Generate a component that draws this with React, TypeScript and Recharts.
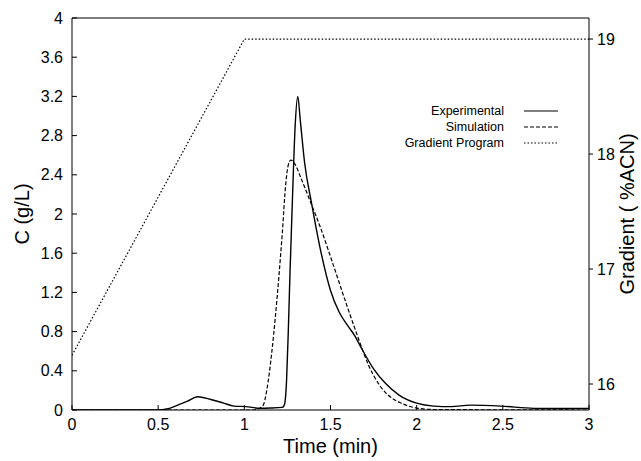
import { LineChart, Line, XAxis, YAxis, ReferenceLine } from "recharts";

const FONT = "'Liberation Sans', Arial, Helvetica, sans-serif";

// experimental elution profile (solid)
const expTime = [0, 0.5, 0.55, 0.6, 0.67, 0.73, 0.8, 0.88, 0.94, 1.01, 1.09, 1.15, 1.22, 1.232, 1.245, 1.255, 1.265, 1.28, 1.295, 1.31, 1.325, 1.35, 1.39, 1.44, 1.5, 1.55, 1.6, 1.64, 1.68, 1.75, 1.82, 1.9, 2.0, 2.1, 2.2, 2.31, 2.49, 2.68, 2.85, 3.0];
const expConc = [0, 0, 0.01, 0.04, 0.09, 0.135, 0.11, 0.07, 0.04, 0.034, 0.018, 0.02, 0.027, 0.05, 0.3, 0.8, 1.4, 2.2, 2.9, 3.2, 2.95, 2.52, 2.11, 1.65, 1.22, 1.0, 0.86, 0.76, 0.63, 0.42, 0.27, 0.15, 0.07, 0.04, 0.034, 0.05, 0.04, 0.017, 0.015, 0.017];

// simulated profile (dashed)
const simTime = [0, 1.05, 1.08, 1.11, 1.13, 1.16, 1.18, 1.2, 1.22, 1.24, 1.255, 1.27, 1.29, 1.33, 1.38, 1.44, 1.52, 1.6, 1.66, 1.72, 1.79, 1.85, 1.91, 2.0, 2.1, 3.0];
const simConc = [0, 0, 0.01, 0.05, 0.2, 0.6, 0.95, 1.35, 1.8, 2.3, 2.5, 2.55, 2.52, 2.36, 2.14, 1.87, 1.46, 1.04, 0.74, 0.46, 0.24, 0.13, 0.07, 0.02, 0.005, 0];

// gradient program (dotted, right axis)
const gradTime = [0, 1, 3];
const gradPct = [16.25, 19, 19];

const xTicks = [0, 0.5, 1, 1.5, 2, 2.5, 3];
const cTicks = [0, 0.4, 0.8, 1.2, 1.6, 2, 2.4, 2.8, 3.2, 3.6, 4];
const gTicks = [16, 17, 18, 19];

const expData = expTime.map((t, i) => ({ t, c: expConc[i] }));
const simData = simTime.map((t, i) => ({ t, c: simConc[i] }));
const gradData = gradTime.map((t, i) => ({ t, g: gradPct[i] }));

const legendItems = [
  { name: "Experimental", dash: undefined },
  { name: "Simulation", dash: "4 2" },
  { name: "Gradient Program", dash: "1.5 2" },
];

function LegendBox() {
  return (
    <div style={{ position: "absolute", left: 372, top: 103, width: 186, fontFamily: FONT, fontSize: 12.5, color: "#000" }}>
      {legendItems.map((it) => (
        <div key={it.name} style={{ display: "flex", alignItems: "center", justifyContent: "flex-end", height: 16 }}>
          <span>{it.name}</span>
          <svg width={44} height={10} style={{ marginLeft: 10 }}>
            <line x1={10} y1={5} x2={44} y2={5} stroke="#000" strokeWidth={1.2} strokeDasharray={it.dash} />
          </svg>
        </div>
      ))}
    </div>
  );
}

const tickStyle = { fill: "#000", fontSize: 16, fontFamily: FONT };
const titleStyle = { fill: "#000", fontSize: 20, fontFamily: FONT, textAnchor: "middle" as const };

export default function App() {
  return (
    <div style={{ position: "absolute", left: 0, top: 0, width: 641, height: 461, background: "#fff" }}>
      <LineChart width={641} height={461} margin={{ top: 18, right: 0, bottom: 0, left: 0 }}>
        <XAxis
          type="number"
          dataKey="t"
          domain={[0, 3]}
          ticks={xTicks}
          allowDataOverflow
          height={51}
          stroke="#000"
          tickSize={-5}
          tickMargin={14}
          tick={tickStyle}
          label={{ value: "Time (min)", position: "insideBottom", offset: 8, style: titleStyle }}
        />
        <YAxis
          yAxisId="c"
          domain={[0, 4]}
          ticks={cTicks}
          allowDataOverflow
          width={72}
          stroke="#000"
          tickSize={-5}
          tickMargin={14}
          tick={tickStyle}
          label={{ value: "C (g/L)", angle: -90, position: "insideLeft", offset: 22, style: titleStyle }}
        />
        <YAxis
          yAxisId="g"
          orientation="right"
          domain={[15.774, 19.183]}
          ticks={gTicks}
          allowDataOverflow
          width={52}
          stroke="#000"
          tickSize={4}
          tickMargin={4}
          tick={tickStyle}
          label={{ value: "Gradient ( %ACN)", angle: -90, position: "insideRight", offset: 14, dy: 0, style: titleStyle }}
        />
        <ReferenceLine yAxisId="c" y={4} stroke="#000" strokeWidth={1} />
        <Line yAxisId="g" data={gradData} dataKey="g" type="linear" stroke="#000" strokeWidth={1.2} strokeDasharray="1.5 2" dot={false} isAnimationActive={false} />
        <Line yAxisId="c" data={simData} dataKey="c" type="monotone" stroke="#000" strokeWidth={1.2} strokeDasharray="4 2" dot={false} isAnimationActive={false} />
        <Line yAxisId="c" data={expData} dataKey="c" type="monotone" stroke="#000" strokeWidth={1.4} dot={false} isAnimationActive={false} />
      </LineChart>
      <LegendBox />
    </div>
  );
}
